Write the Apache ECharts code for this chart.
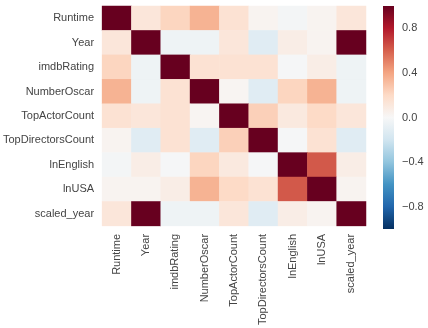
<!DOCTYPE html>
<html><head><meta charset="utf-8">
<script src="https://cdn.jsdelivr.net/npm/echarts@6/dist/echarts.min.js"></script>
<style>html,body{margin:0;padding:0;background:#fff}#c{width:428px;height:328px}</style>
</head><body><div id="c"></div>
<script>
var categories = ['Runtime','Year','imdbRating','NumberOscar','TopActorCount','TopDirectorsCount','lnEnglish','lnUSA','scaled_year'];
var rowRuntime      = [1.00, 0.12, 0.22, 0.35, 0.15, 0.03, -0.02, 0.03, 0.12];
var rowYear         = [0.12, 1.00, -0.05, -0.05, 0.12, -0.12, 0.07, 0.03, 1.00];
var rowImdb         = [0.22, -0.05, 1.00, 0.15, 0.15, 0.15, -0.01, 0.07, -0.05];
var rowOscar        = [0.35, -0.05, 0.15, 1.00, 0.02, -0.12, 0.22, 0.35, -0.05];
var rowActor        = [0.15, 0.12, 0.15, 0.02, 1.00, 0.24, 0.10, 0.20, 0.12];
var rowDirectors    = [0.03, -0.12, 0.15, -0.12, 0.24, 1.00, -0.01, 0.15, -0.12];
var rowEnglish      = [-0.02, 0.07, -0.01, 0.22, 0.10, -0.01, 1.00, 0.62, 0.07];
var rowUSA          = [0.03, 0.03, 0.07, 0.35, 0.20, 0.15, 0.62, 1.00, 0.03];
var rowScaledYear   = [0.12, 1.00, -0.05, -0.05, 0.12, -0.12, 0.07, 0.03, 1.00];
var colorbarTicks = [-0.8, -0.4, 0.0, 0.4, 0.8];

var rows = [rowRuntime,rowYear,rowImdb,rowOscar,rowActor,rowDirectors,rowEnglish,rowUSA,rowScaledYear];
var data = [];
rows.forEach(function(r,i){ r.forEach(function(v,j){ data.push([j,i,v]); }); });

var palette = ['#053061','#2166ac','#4393c3','#92c5de','#d1e5f0','#f7f7f7','#fddbc7','#f4a582','#d6604d','#b2182b','#67001f'];
var stops = palette.map(function(c,i){ return {offset: 1 - i/(palette.length-1), color:c}; }).reverse();

var chart = echarts.init(document.getElementById('c'));
var lab = {color:'#444', fontSize:11, fontFamily:'Liberation Sans, Arial, sans-serif'};
chart.setOption({
  animation:false,
  grid:[{left:99, top:6, width:267, height:223},{left:383, top:6, width:11, height:223}],
  xAxis:[{type:'category', data:categories, gridIndex:0, axisLine:{show:false}, axisTick:{show:false}, splitLine:{show:false},
          axisLabel:Object.assign({rotate:90, margin:8, interval:0}, lab)},
         {type:'category', data:[''], gridIndex:1, show:false}],
  yAxis:[{type:'category', data:categories, gridIndex:0, inverse:true, axisLine:{show:false}, axisTick:{show:false}, splitLine:{show:false},
          axisLabel:Object.assign({margin:8, interval:0}, lab)},
         {type:'value', gridIndex:1, min:-1, max:1, interval:0.2, position:'right', axisLine:{show:false}, axisTick:{show:false}, splitLine:{show:false},
          axisLabel:Object.assign({margin:8, formatter:function(v){
            var r = Math.round(v*10)/10;
            for (var k=0;k<colorbarTicks.length;k++){ if (Math.abs(colorbarTicks[k]-r)<1e-6) return (r<0?'\u2212':'')+Math.abs(r).toFixed(1); }
            return '';
          }}, lab)}],
  visualMap:{type:'continuous', min:-1, max:1, seriesIndex:0, show:false, inRange:{color:palette}},
  graphic:[{type:'rect', left:383, top:6, shape:{width:11, height:223}, silent:true,
    style:{fill:new echarts.graphic.LinearGradient(0,0,0,1,stops)}}],
  series:[{type:'heatmap', data:data, xAxisIndex:0, yAxisIndex:0, emphasis:{disabled:true}, itemStyle:{borderWidth:0}}]
});
</script></body></html>
